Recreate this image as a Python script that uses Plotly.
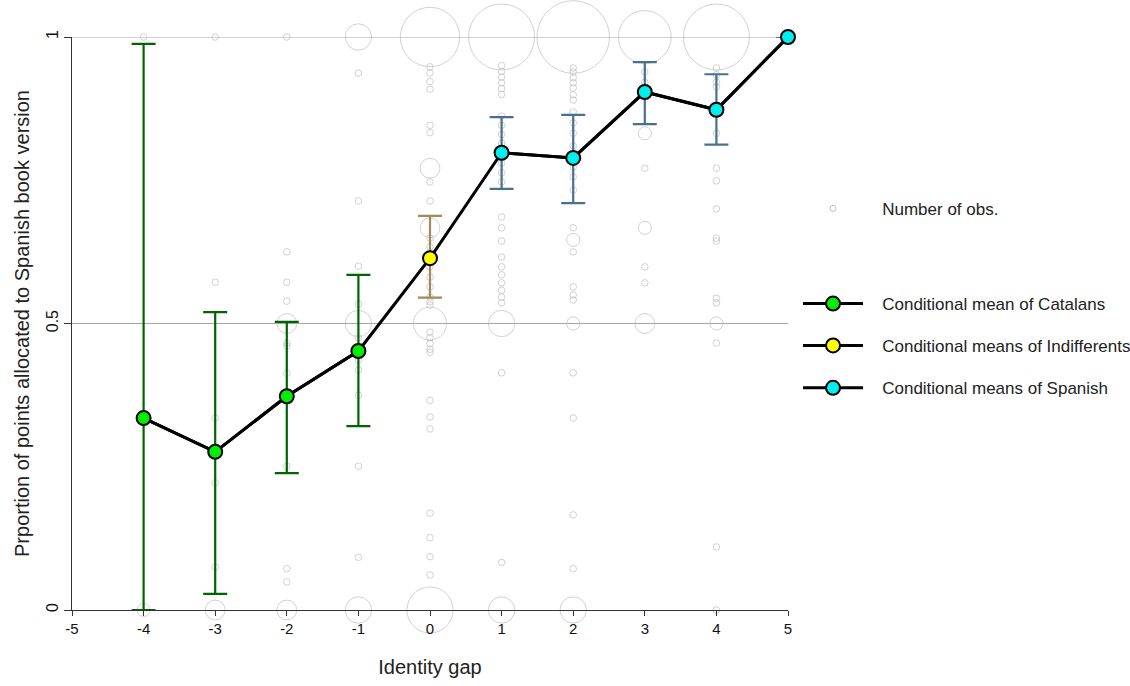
import plotly.graph_objects as go

# ---- data ----
gap_levels = [-5, -4, -3, -2, -1, 0, 1, 2, 3, 4, 5]
y_ticks = [0, 0.5, 1]
y_ticklabels = ["0", "0.5", "1"]
ref_lines = [0.5, 1]

# individual observations: (identity gap, proportion, number of obs.)
obs_m4 = [(1, 1), (0, 2)]
obs_m3 = [(1, 1), (0.572, 1), (0.335, 1), (0.222, 1), (0.075, 1), (0, 3)]
obs_m2 = [(1, 1), (0.625, 1), (0.572, 1), (0.539, 1), (0.5, 3), (0.466, 1), (0.461, 1),
          (0.413, 1), (0.379, 1), (0.251, 1), (0.072, 1), (0.049, 1), (0, 3)]
obs_m1 = [(1, 4), (0.937, 1), (0.714, 1), (0.600, 1), (0.534, 1), (0.5, 4), (0.475, 1),
          (0.436, 1), (0.419, 1), (0.375, 1), (0.251, 1), (0.092, 1), (0, 4)]
obs_0 = [(1, 9), (0.948, 1), (0.937, 1), (0.922, 1), (0.909, 1), (0.846, 1), (0.833, 1),
         (0.771, 3), (0.747, 1), (0.714, 1), (0.667, 3), (0.649, 1), (0.634, 1), (0.599, 1),
         (0.581, 1), (0.564, 1), (0.546, 1), (0.538, 1), (0.532, 1), (0.5, 5), (0.485, 1),
         (0.475, 1), (0.465, 1), (0.455, 1), (0.45, 1), (0.366, 1), (0.337, 1), (0.316, 1),
         (0.169, 1), (0.126, 1), (0.093, 1), (0.061, 1), (0, 7)]
obs_p1 = [(1, 10), (0.95, 1), (0.94, 1), (0.93, 1), (0.92, 1), (0.91, 1), (0.90, 1),
          (0.862, 1), (0.846, 1), (0.83, 1), (0.815, 1), (0.78, 1), (0.763, 1), (0.747, 1),
          (0.686, 1), (0.667, 1), (0.644, 1), (0.616, 1), (0.599, 1), (0.585, 1), (0.571, 1),
          (0.558, 1), (0.546, 1), (0.536, 1), (0.5, 4), (0.414, 1), (0.083, 1), (0, 4)]
obs_p2 = [(1, 11), (0.946, 1), (0.939, 1), (0.929, 1), (0.920, 1), (0.911, 1), (0.899, 1),
          (0.890, 1), (0.869, 1), (0.85, 1), (0.832, 1), (0.81, 1), (0.773, 1), (0.756, 1),
          (0.733, 1), (0.667, 1), (0.646, 2), (0.625, 1), (0.564, 1), (0.550, 1), (0.541, 1),
          (0.5, 2), (0.414, 1), (0.335, 1), (0.166, 1), (0.072, 1), (0, 4)]
obs_p3 = [(1, 8), (0.939, 1), (0.921, 1), (0.832, 2), (0.771, 1), (0.667, 2), (0.599, 1),
          (0.571, 1), (0.5, 3)]
obs_p4 = [(1, 10), (0.946, 1), (0.934, 1), (0.921, 1), (0.913, 1), (0.832, 1), (0.771, 1),
          (0.749, 1), (0.700, 1), (0.649, 1), (0.644, 1), (0.544, 1), (0.536, 1), (0.5, 2),
          (0.466, 1), (0.110, 1), (0, 1)]
obs_p5 = [(1, 2)]

obs_by_gap = {-4: obs_m4, -3: obs_m3, -2: obs_m2, -1: obs_m1, 0: obs_0,
              1: obs_p1, 2: obs_p2, 3: obs_p3, 4: obs_p4, 5: obs_p5}

# conditional means with confidence intervals
cat_x = [-4, -3, -2, -1]
cat_mean = [0.335, 0.276, 0.373, 0.452]
cat_hi = [0.988, 0.520, 0.503, 0.585]
cat_lo = [0.000, 0.028, 0.239, 0.321]

ind_x = [0]
ind_mean = [0.614]
ind_hi = [0.688]
ind_lo = [0.545]

spa_x = [1, 2, 3, 4, 5]
spa_mean = [0.798, 0.789, 0.904, 0.873, 1.000]
spa_hi = [0.860, 0.864, 0.956, 0.935, 1.000]
spa_lo = [0.735, 0.710, 0.848, 0.812, 1.000]

# ---- build ----
FONT = "Liberation Sans, Arial, sans-serif"
px_per_obs = 6.6
PAD = "\u00a0\u00a0\u00a0"

ox, oy, on = [], [], []
for g, pts in obs_by_gap.items():
    for yv, n in pts:
        ox.append(g)
        oy.append(yv)
        on.append(n)

fig = go.Figure()

# horizontal reference lines
for yv in ref_lines:
    fig.add_shape(type="line", xref="x", yref="y", x0=gap_levels[0], x1=gap_levels[-1],
                  y0=yv, y1=yv, line=dict(color="#a4a4a4", width=1), layer="below")

fig.add_trace(go.Scatter(
    x=ox, y=oy, mode="markers", showlegend=False, cliponaxis=False,
    marker=dict(symbol="circle-open", size=[n * px_per_obs for n in on],
                color="#bebebe", line=dict(width=1, color="#bebebe")),
    hoverinfo="skip"))

# legend entry for observation circles
fig.add_trace(go.Scatter(
    x=[None], y=[None], mode="markers", name=PAD + "Number of obs.", legend="legend",
    marker=dict(symbol="circle-open", size=6, color="#bebebe", line=dict(width=1))))

all_x = cat_x + ind_x + spa_x
all_mean = cat_mean + ind_mean + spa_mean
fig.add_trace(go.Scatter(
    x=all_x, y=all_mean, mode="lines", showlegend=False, cliponaxis=False,
    line=dict(color="black", width=3)))

groups = [
    ("Conditional mean of Catalans", cat_x, cat_mean, cat_hi, cat_lo, "#00ee00", "#006400", "legend2"),
    ("Conditional means of Indifferents", ind_x, ind_mean, ind_hi, ind_lo, "#ffff00", "#a08c5a", "legend3"),
    ("Conditional means of Spanish", spa_x, spa_mean, spa_hi, spa_lo, "#00eeee", "#4a708b", "legend4"),
]
for name, gx, gm, ghi, glo, fill, ecol, leg in groups:
    fig.add_trace(go.Scatter(
        x=gx, y=gm, mode="lines+markers", name=PAD + name, legend=leg, cliponaxis=False,
        line=dict(color="black", width=3),
        marker=dict(size=14, color=fill, line=dict(color="black", width=2)),
        error_y=dict(type="data", symmetric=False,
                     array=[h - m for h, m in zip(ghi, gm)],
                     arrayminus=[m - l for m, l in zip(gm, glo)],
                     color=ecol, thickness=2.2, width=12)))

leg_common = dict(font=dict(family=FONT, size=17, color="#222"), bgcolor="rgba(0,0,0,0)",
                  xanchor="left", yanchor="middle", itemwidth=60)
x_leg = 1.014
fig.update_layout(
    legend=dict(x=x_leg, y=0.700, **leg_common),
    legend2=dict(x=x_leg, y=0.534, **leg_common),
    legend3=dict(x=x_leg, y=0.461, **leg_common),
    legend4=dict(x=x_leg, y=0.387, **leg_common),
)

fig.update_layout(
    width=1130, height=686,
    margin=dict(l=72, r=342, t=37, b=76, autoexpand=False),
    paper_bgcolor="white", plot_bgcolor="white",
    font=dict(family=FONT, size=15, color="#222"),
    xaxis=dict(range=[-5, 5], tickvals=gap_levels, ticktext=[str(v) for v in gap_levels],
               showline=True, linecolor="#333", linewidth=1, ticks="outside", ticklen=5,
               tickcolor="#333", showgrid=False, zeroline=False,
               tickfont=dict(size=15, color="#111"),
               title=dict(text="Identity gap", font=dict(size=20, color="#222"), standoff=23)),
    yaxis=dict(range=[0, 1], tickvals=y_ticks, ticktext=y_ticklabels, tickangle=-90,
               showline=True, linecolor="#333", linewidth=1, ticks="outside", ticklen=7,
               tickcolor="#333", showgrid=False, zeroline=False,
               tickfont=dict(size=16, color="#111"),
               title=dict(text="Prportion of points allocated to Spanish book version",
                          font=dict(size=20, color="#222"), standoff=8)),
)

fig.write_html("out.html")
